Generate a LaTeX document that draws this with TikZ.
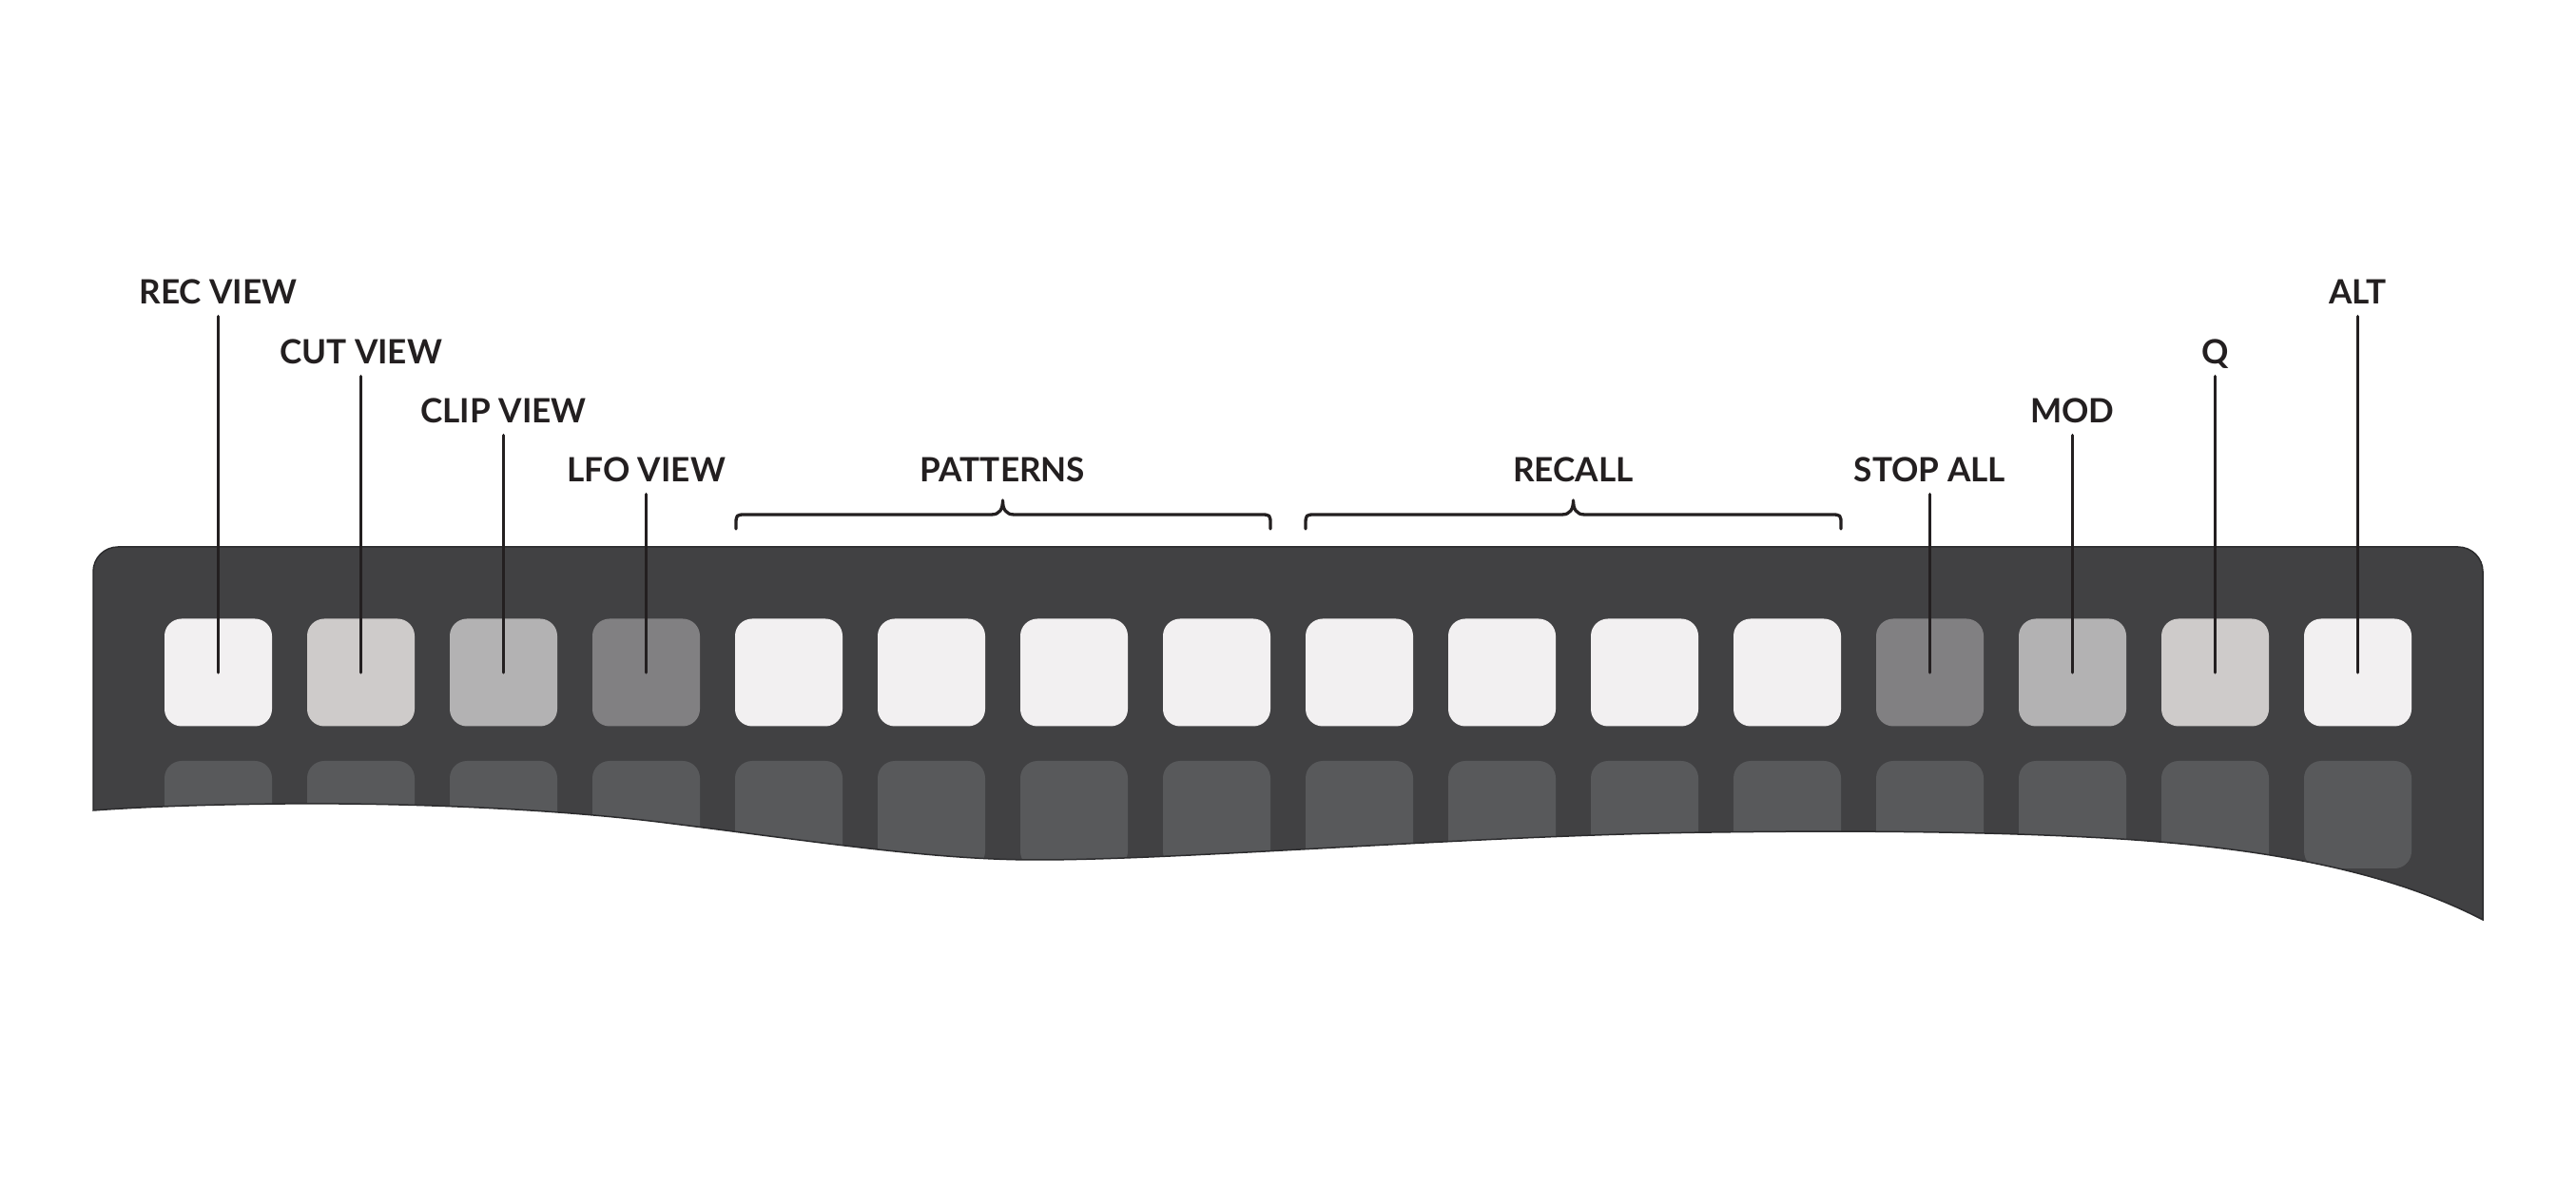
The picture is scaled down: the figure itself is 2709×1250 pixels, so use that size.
\documentclass[tikz,border=0pt]{standalone}
\usepackage{fontspec}
\setmainfont{Lato}
\definecolor{panel}{HTML}{414143}
\definecolor{panelline}{HTML}{2C2C2E}
\definecolor{lowkey}{HTML}{58595B}
\definecolor{keyA}{HTML}{F2F0F1}
\definecolor{keyB}{HTML}{CECBCA}
\definecolor{keyC}{HTML}{B3B2B3}
\definecolor{keyD}{HTML}{818082}
\definecolor{ink}{HTML}{231F20}
\tikzset{
  key/.style={rectangle, minimum width=11.3mm, minimum height=11.3mm, rounded corners=1.8mm, inner sep=0pt, draw=none},
  lbl/.style={anchor=base, inner xsep=0pt, inner ysep=1.2mm, text depth=0pt, text=ink, font=\fontsize{10}{12}\selectfont\bfseries},
  leader/.style={draw=ink, line width=0.35mm, line cap=round},
  bracket/.style={draw=ink, line width=0.33mm, line cap=round, line join=round}
}
\def\panelpath{(98,852) -- (98,700) [rounded corners=2.6mm] -- (98,575) -- (2611,575) -- (2611,700) [sharp corners] -- (2611,967)
  .. controls (2520,920) and (2400,893) .. (2230,882)
  .. controls (2100,874) and (1950,873) .. (1800,875)
  .. controls (1550,878) and (1250,904) .. (1090,904)
  .. controls (980,904) and (860,885) .. (700,865)
  .. controls (580,850) and (430,844) .. (300,845)
  .. controls (200,846) and (140,849) .. (98,852) -- cycle}
\begin{document}
\begin{tikzpicture}[x=0.1mm, y=-0.1mm]
\fill[white] (0,0) rectangle (2709,1250);
\useasboundingbox (0,0) rectangle (2709,1250);

% panel
\fill[panel] \panelpath;

% lower row of keys, cut off by the panel edge
\begin{scope}
  \clip \panelpath;
  \foreach \i in {0,...,15} {
    \node[key, fill=lowkey] (k\i) at ({229.5+150*\i},856.5) {};
  }
\end{scope}
\draw[panelline, line width=0.15mm] \panelpath;

% upper row of keys
\foreach \i/\c in {1/keyA,2/keyB,3/keyC,4/keyD,5/keyA,6/keyA,7/keyA,8/keyA,9/keyA,10/keyA,11/keyA,12/keyA,13/keyD,14/keyC,15/keyB,16/keyA} {
  \node[key, fill=\c] (b\i) at ({229.5+150*(\i-1)},707) {};
}

% labels
\node[lbl] (lrec)  at (229.5,320) {REC VIEW};
\node[lbl] (lcut)  at (379.5,383) {CUT VIEW};
\node[lbl] (lclip) at (529.5,445) {CLIP VIEW};
\node[lbl] (llfo)  at (679.5,507) {LFO VIEW};
\node[lbl] (lstop) at (2029.5,507) {STOP ALL};
\node[lbl] (lmod)  at (2179.5,445) {MOD};
\node[lbl] (lq)    at (2329.5,383) {Q};
\node[lbl] (lalt)  at (2479.5,320) {ALT};
\node[lbl] (lpat)  at (1054.5,507) {PATTERNS};
\node[lbl] (lrcl)  at (1654.5,507) {RECALL};

% leaders
\draw[leader] (lrec.south)  -- (b1.center);
\draw[leader] (lcut.south)  -- (b2.center);
\draw[leader] (lclip.south) -- (b3.center);
\draw[leader] (llfo.south)  -- (b4.center);
\draw[leader] (lstop.south) -- (b13.center);
\draw[leader] (lmod.south)  -- (b14.center);
\draw[leader] (lq.south)    -- (b15.center);
\draw[leader] (lalt.south)  -- (b16.center);

% braces
\foreach \a/\m/\e in {774/1054.5/1336, 1373/1654.5/1936} {
  \draw[bracket] (\a,556) -- (\a,552) .. controls (\a,541) .. ({\a+11},541) -- ({\m-12},541)
    .. controls ({\m-3},541) and (\m,535) .. (\m,526)
    .. controls (\m,535) and ({\m+3},541) .. ({\m+12},541) -- ({\e-11},541)
    .. controls (\e,541) .. (\e,552) -- (\e,556);
}
\end{tikzpicture}
\end{document}
